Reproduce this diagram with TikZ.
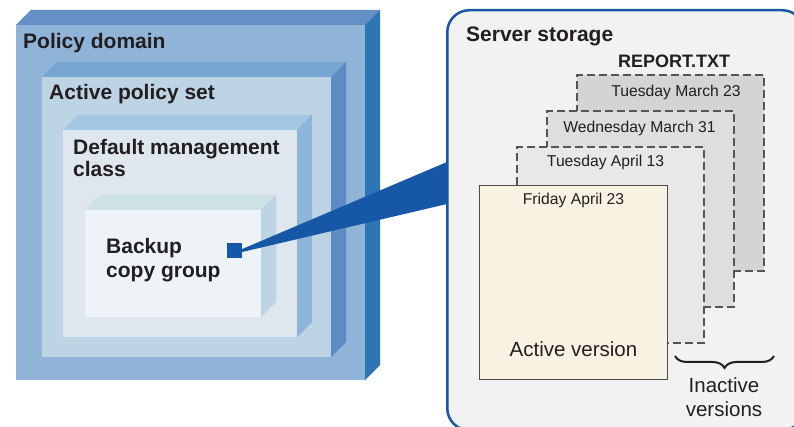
\documentclass[tikz,border=0pt]{standalone}
\usepackage{fontspec}
\setmainfont{Liberation Sans}
\usetikzlibrary{positioning,calc,decorations.pathreplacing}
\definecolor{ink}{HTML}{231F20}
\definecolor{linkblue}{HTML}{1657A6}
\definecolor{pdfront}{HTML}{8FB4D8}
\definecolor{pdtop}{HTML}{6490C6}
\definecolor{pdside}{HTML}{2E75B6}
\definecolor{apfront}{HTML}{BDD4E4}
\definecolor{aptop}{HTML}{76A6D1}
\definecolor{apside}{HTML}{5F8BC3}
\definecolor{dmfront}{HTML}{DEE6EE}
\definecolor{dmtop}{HTML}{A4C8E3}
\definecolor{dmside}{HTML}{8FB4D9}
\definecolor{bgfront}{HTML}{EDF3F6}
\definecolor{bgtop}{HTML}{CEE1E6}
\definecolor{bgside}{HTML}{BCD4E3}
\definecolor{storefill}{HTML}{F2F2F2}
\definecolor{pageline}{HTML}{555555}
\definecolor{activefill}{HTML}{F8F2E2}
\tikzset{
  face/.style={inner sep=0pt,outer sep=0pt,anchor=south west},
  title/.style={font=\bfseries\fontsize{21}{24}\selectfont,text=ink,inner sep=0pt,anchor=base west,align=left},
  plain/.style={font=\fontsize{20.5}{24}\selectfont,text=ink,inner sep=0pt,anchor=base,align=center},
  date/.style={font=\fontsize{15.7}{18}\selectfont,text=ink,inner sep=0pt,anchor=base},
  page/.style={draw=pageline,dash pattern=on 8pt off 4pt,line width=1.5pt,inner sep=0pt,anchor=south west,minimum width=187pt,minimum height=196pt},
  storebox/.style={draw=linkblue,fill=storefill,line width=2.5pt,rounded corners=22pt,inner sep=0pt,anchor=north west},
  brace/.style={decorate,decoration={brace,mirror,amplitude=12pt,aspect=0.5},line width=2pt,draw=ink},
}

\begin{document}
\begin{tikzpicture}[x=1pt,y=1pt]
\useasboundingbox (0,0) rectangle (794,427);
\clip (0,0) rectangle (794,427);
% nested policy boxes
\node[face, fill=pdfront, minimum width=349pt, minimum height=355pt] (pd) at (16,47) {};
\node[face, fill=apfront, minimum width=289pt, minimum height=280pt] (ap) at (42,70) {};
\node[face, fill=dmfront, minimum width=234pt, minimum height=207pt] (dm) at (63,90) {};
\node[face, fill=bgfront, minimum width=176pt, minimum height=107pt] (bg) at (85,110) {};
\foreach \b in {pd,ap,dm,bg} {
  \fill[\b top] (\b.north west) -- ++(15,15) -- ($(\b.north east)+(15,15)$) -- (\b.north east) -- cycle;
  \fill[\b side] (\b.north east) -- ++(15,15) -- ($(\b.south east)+(15,15)$) -- (\b.south east) -- cycle;
}
\node[title] (pdlabel) at (23,378) {Policy domain};
\node[title] (aplabel) at (49,327) {Active policy set};
\node[title, font=\bfseries\fontsize{21}{22}\selectfont] (dmlabel) at (73,250) {Default management\\class};
\node[title] (bglabel) at (106,149) {Backup\\copy group};
\node[fill=linkblue, minimum size=15pt, inner sep=0pt] (bsq) at (234.5,176.5) {};

% link to server storage
\coordinate (wtop) at (447,265);
\coordinate (wbot) at (447,223);
\fill[linkblue] ($(bsq.east)+(0,1.5)$) -- (wtop) -- (wbot) -- ($(bsq.east)+(0,-1.5)$) -- cycle;
\node[storebox, minimum width=357pt, minimum height=420pt] (store) at (446,418) {};
\node[title] (stlabel) at (466,385) {Server storage};
\node[title, font=\bfseries\fontsize{18}{20}\selectfont] (file) at (618,359) {REPORT.TXT};

% versions
\node[page, fill=black!17] (v1) at (576,155) {};
\node[page, fill=black!13] (v2) at (546,119) {};
\node[page, fill=black!9] (v3) at (516,83) {};
\node[page, solid, draw=ink!80, line width=1.2pt, fill=activefill, minimum width=188pt, minimum height=194pt] (v4) at (479,47) {};
\node[date] (d1) at (676,330) {Tuesday March 23};
\node[date] (d2) at (639.5,294) {Wednesday March 31};
\node[date] (d3) at (605.6,260) {Tuesday April 13};
\node[date] (d4) at (573.5,222) {Friday April 23};
\node[plain] (act) at (573.5,70) {Active version};

% inactive brace
\coordinate (bl) at (675,71);
\coordinate (br) at (774,71);
\draw[brace] (bl) -- (br);
\node[plain] (inact) at (724,10) {Inactive\\versions};
\end{tikzpicture}
\end{document}
